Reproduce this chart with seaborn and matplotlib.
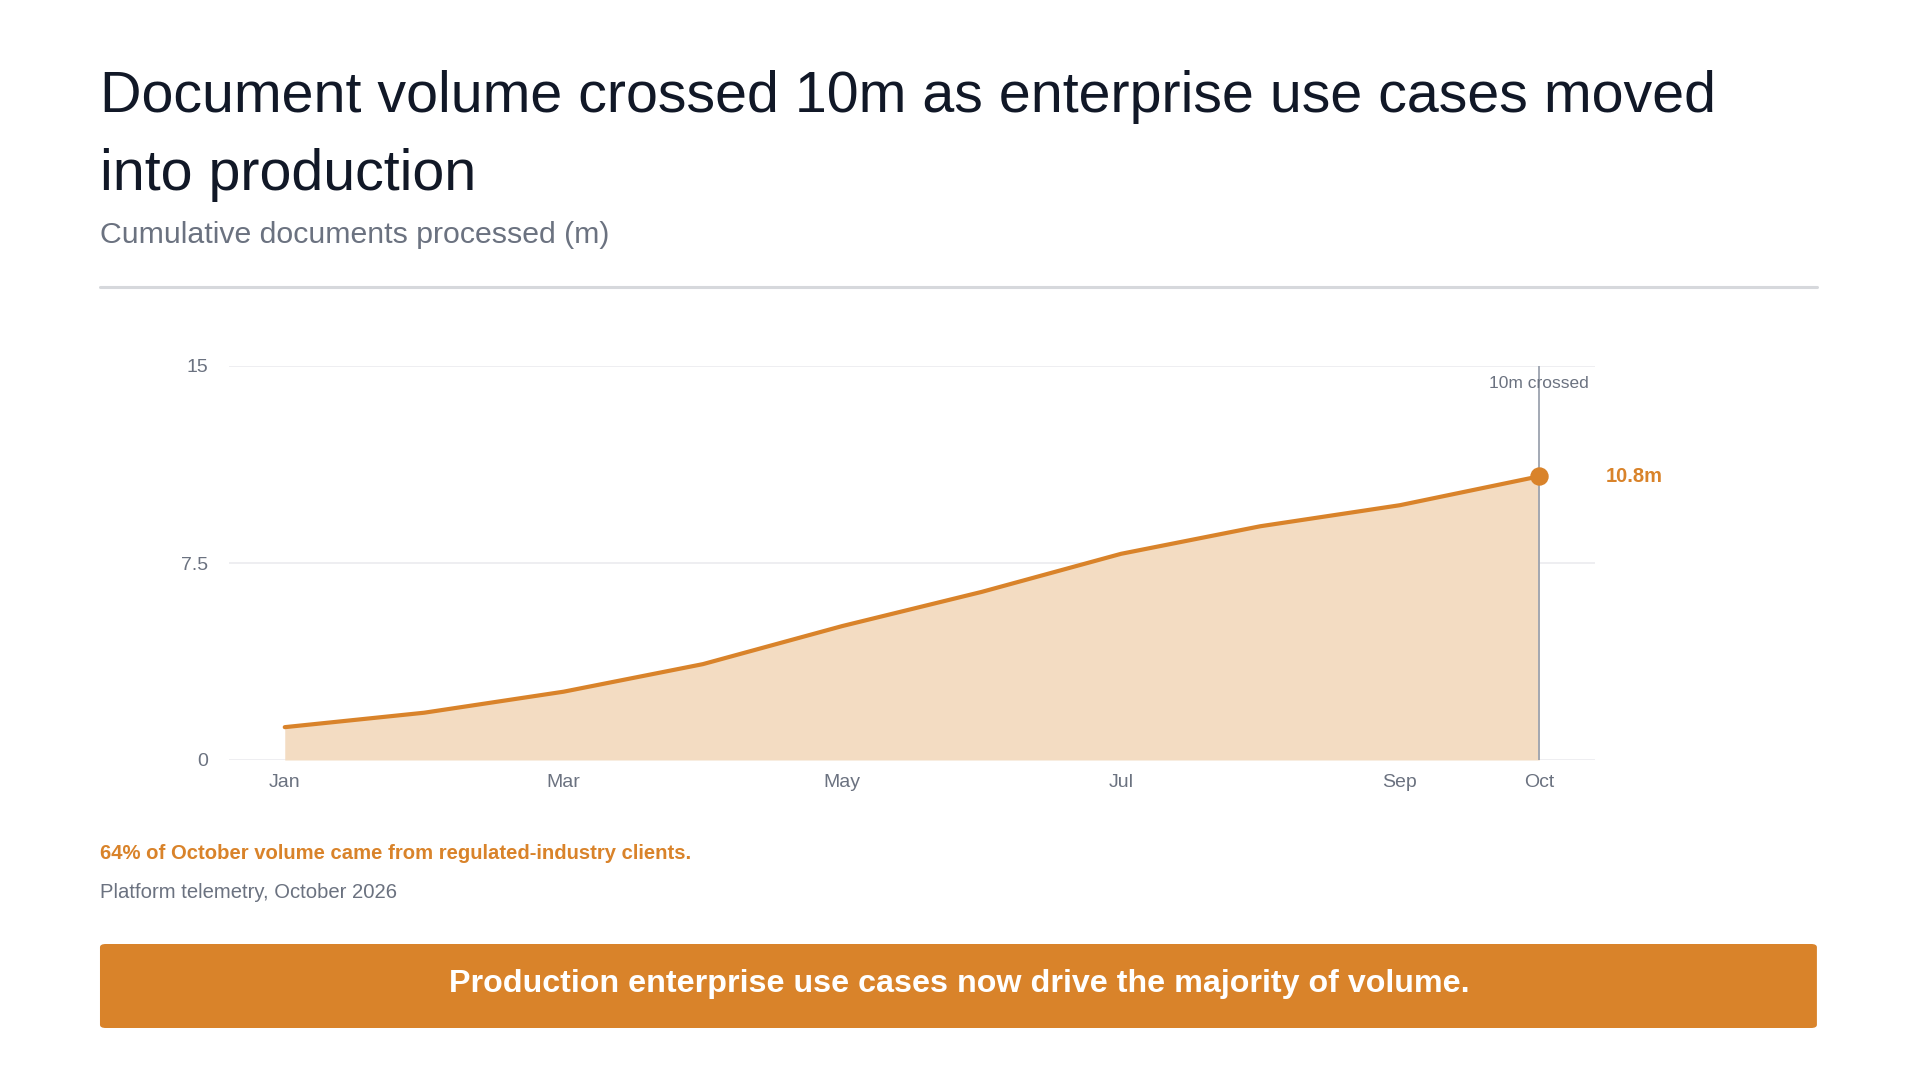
import pandas as pd
import seaborn as sns
import matplotlib.pyplot as plt
from matplotlib.patches import FancyBboxPatch
from matplotlib.lines import Line2D

# data
months = ['Jan', 'Feb', 'Mar', 'Apr', 'May', 'Jun', 'Jul', 'Aug', 'Sep', 'Oct']
docs_m = [1.25, 1.8, 2.6, 3.65, 5.1, 6.4, 7.85, 8.9, 9.7, 10.8]
tick_months = ['Jan', 'Mar', 'May', 'Jul', 'Sep', 'Oct']
y_ticks = [0, 7.5, 15]
y_tick_labels = ['0', '7.5', '15']

title_1 = 'Document volume crossed 10m as enterprise use cases moved'
title_2 = 'into production'
subtitle = 'Cumulative documents processed (m)'
note = '64% of October volume came from regulated-industry clients.'
source = 'Platform telemetry, October 2026'
banner = 'Production enterprise use cases now drive the majority of volume.'

ORANGE = '#d9832a'
FILL = '#f3dcc2'
DARK = '#111827'
GRAY = '#6b7280'
GRID = '#ebebef'

sns.set_theme(style='white')
plt.rcParams['font.family'] = ['Liberation Sans', 'DejaVu Sans']

df = pd.DataFrame({'month': months, 'docs': docs_m})
df['pos'] = range(len(df))

fig = plt.figure(figsize=(19.19, 10.8), dpi=100)
fig.patch.set_facecolor('white')

# header
fig.text(0.0521, 1 - 112 / 1080, title_1, fontsize=41.3, color=DARK, va='baseline', ha='left')
fig.text(0.0521, 1 - 190 / 1080, title_2, fontsize=41.3, color=DARK, va='baseline', ha='left')
fig.text(0.0521, 1 - 243 / 1080, subtitle, fontsize=21.8, color=GRAY, va='baseline', ha='left')
fig.add_artist(Line2D([0.0521, 0.9469], [1 - 287 / 1080] * 2, color='#d6d8dc', lw=2.2,
                      transform=fig.transFigure))

# chart
ax = fig.add_axes([229 / 1919, 320 / 1080, (1595 - 229) / 1919, (760 - 366) / 1080])
ax.fill_between(df['pos'], df['docs'], 0, color=FILL, lw=0, zorder=1)
sns.lineplot(data=df, x='pos', y='docs', ax=ax, color=ORANGE, lw=3, zorder=3)

last = df.iloc[-1]
ax.axvline(last['pos'], ymin=0, ymax=1, color='#9ca3af', lw=1.3, zorder=2)
ax.scatter([last['pos']], [last['docs']], s=150, color=ORANGE, zorder=4, clip_on=False)
ax.annotate(f"{last['docs']:.1f}m", (last['pos'], last['docs']), xytext=(48, 0),
            textcoords='offset points', fontsize=14.5, fontweight='bold', color=ORANGE,
            va='center', ha='left', annotation_clip=False)
ax.text(last['pos'], 14.35, '10m crossed', fontsize=12.5, color=GRAY, ha='center', va='center')

ax.set_xlim(-0.4, 9.4)
ax.set_ylim(0, 15)
ax.set_xticks([months.index(m) for m in tick_months])
ax.set_xticklabels(tick_months)
ax.set_yticks(y_ticks)
ax.set_yticklabels(y_tick_labels)
ax.tick_params(axis='both', length=0, labelsize=14, labelcolor=GRAY)
ax.tick_params(axis='y', pad=15)
ax.tick_params(axis='x', pad=10)
ax.grid(axis='y', color=GRID, lw=1.2)
ax.set_axisbelow(True)
ax.set_xlabel('')
ax.set_ylabel('')
for s in ax.spines.values():
    s.set_visible(False)

# footer
fig.text(0.0521, 1 - 859 / 1080, note, fontsize=14.6, fontweight='bold', color=ORANGE, va='baseline')
fig.text(0.0521, 1 - 898 / 1080, source, fontsize=14.6, color=GRAY, va='baseline')

box = FancyBboxPatch((0.0521, 1 - 1028 / 1080), 0.8947, 84 / 1080,
                     boxstyle='round,pad=0,rounding_size=0.003', transform=fig.transFigure,
                     facecolor=ORANGE, edgecolor='none')
fig.add_artist(box)
fig.text(0.5, 1 - 984 / 1080, banner, fontsize=23.2, fontweight='bold', color='white',
         ha='center', va='center')

fig.savefig('out.png', dpi=100, facecolor='white')
